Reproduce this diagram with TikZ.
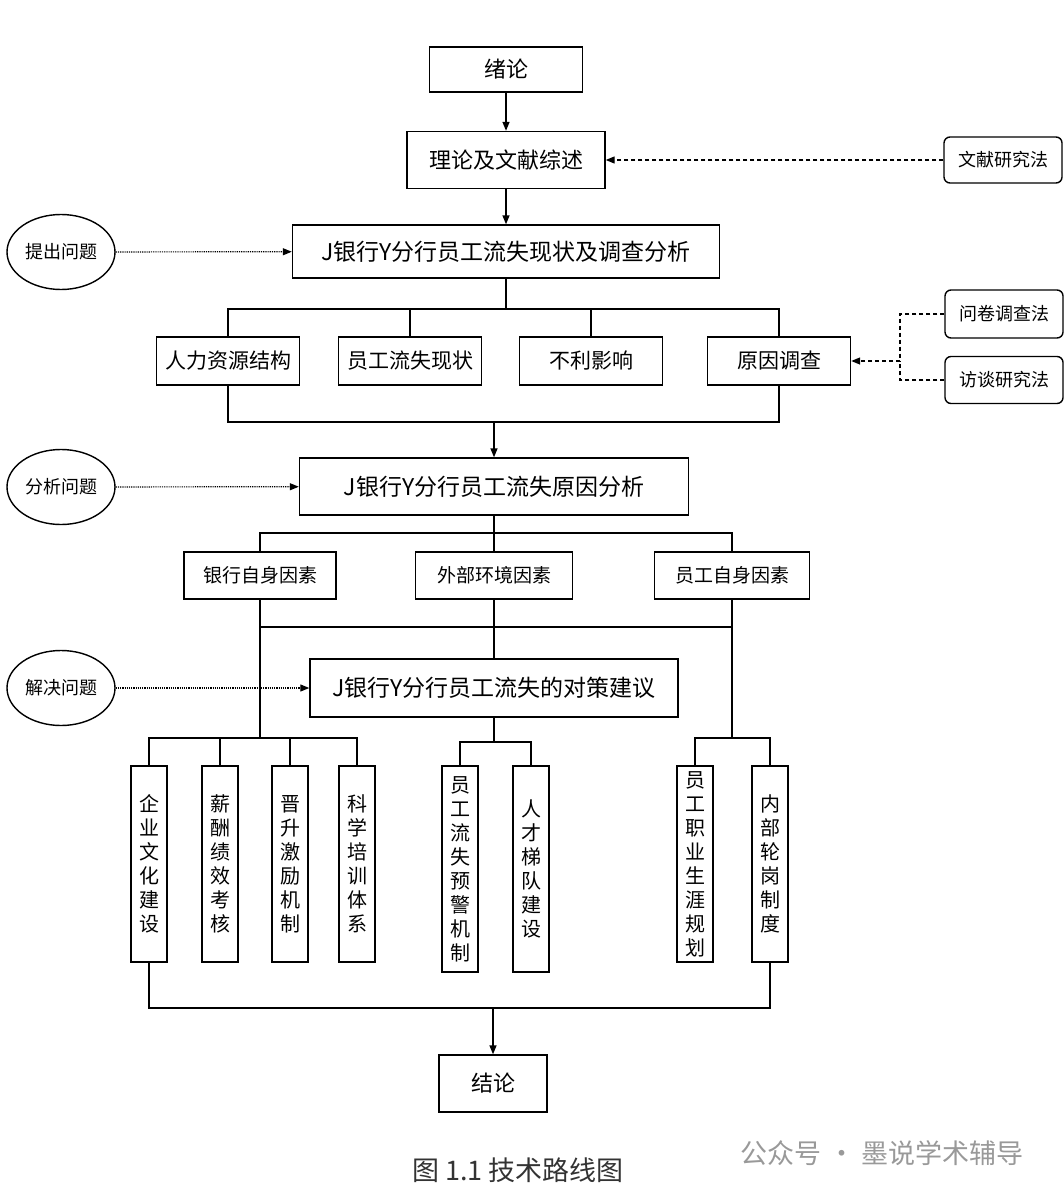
\documentclass[tikz,border=0pt]{standalone}
\usepackage{fontspec}
\setmainfont{Noto Sans CJK SC}
\usetikzlibrary{arrows.meta,shapes.geometric}

\begin{document}
\begin{tikzpicture}[x=1pt, y=-1pt, line width=1.4pt,
	>={Triangle[length=9pt,width=7pt]},
	box/.style={draw, rectangle, inner sep=0pt, align=center},
	mainbox/.style={box, font=\fontsize{23}{27}\selectfont},
	subbox/.style={box, minimum width=143pt, minimum height=48pt, font=\fontsize{21}{25}\selectfont},
	factorbox/.style={box, minimum height=47pt, font=\fontsize{19}{23}\selectfont},
	vbox/.style={box, minimum width=36pt, text width=36pt, minimum height=196pt, font=\fontsize{20}{24}\selectfont},
	method/.style={box, rounded corners=6pt, minimum width=118pt, font=\fontsize{18}{22}\selectfont},
	oval/.style={draw, ellipse, minimum width=108pt, minimum height=75pt, inner sep=0pt, font=\fontsize{18}{22}\selectfont},
	dotarrow/.style={->, densely dotted, line width=1.2pt},
	dashline/.style={dash pattern=on 4pt off 3pt, line width=1.3pt},
	dasharrow/.style={->, dashline}]
	\useasboundingbox (0,0) rectangle (1064,1196);

	\node [box, minimum width=153pt, minimum height=45pt, font=\fontsize{22}{26}\selectfont] (xulun) at (506,69.5) {绪论};
	\node [box, minimum width=198pt, minimum height=57pt, font=\fontsize{22}{26}\selectfont] (zongshu) at (506,160) {理论及文献综述};
	\node [method, minimum height=46pt] (wenxian) at (1003,160) {文献研究法};
	\node [oval] (tichu) at (61,252) {提出问题};
	\node [mainbox, minimum width=427pt, minimum height=53pt] (xianzhuang) at (506,251.5) {J银行Y分行员工流失现状及调查分析};

	\node [subbox] (jiegou) at (228,361) {人力资源结构};
	\node [subbox] (xianzhuang2) at (410,361) {员工流失现状};
	\node [subbox] (yingxiang) at (591,361) {不利影响};
	\node [subbox] (diaocha) at (779,361) {原因调查};
	\node [method, minimum height=48pt] (wenjuan) at (1004,314) {问卷调查法};
	\node [method, minimum height=47pt] (fangtan) at (1004,380) {访谈研究法};

	\node [oval] (fenxi) at (61,487) {分析问题};
	\node [mainbox, minimum width=389pt, minimum height=57pt] (yuanyin) at (494,486.5) {J银行Y分行员工流失原因分析};
	\node [factorbox, minimum width=152pt] (yinhang) at (260,575.5) {银行自身因素};
	\node [factorbox, minimum width=157pt] (waibu) at (494,575.5) {外部环境因素};
	\node [factorbox, minimum width=155pt] (yuangong) at (732,575.5) {员工自身因素};

	\node [oval] (jiejue) at (61,688) {解决问题};
	\node [mainbox, minimum width=368pt, minimum height=58pt] (duice) at (494,688) {J银行Y分行员工流失的对策建议};

	\node [vbox] (qiye) at (149,864) {企\\业\\文\\化\\建\\设};
	\node [vbox] (xinchou) at (220,864) {薪\\酬\\绩\\效\\考\\核};
	\node [vbox] (jinsheng) at (290,864) {晋\\升\\激\\励\\机\\制};
	\node [vbox] (kexue) at (357,864) {科\\学\\培\\训\\体\\系};
	\node [vbox, minimum height=206pt] (yujing) at (460,869) {员\\工\\流\\失\\预\\警\\机\\制};
	\node [vbox, minimum height=206pt] (tidui) at (531,869) {人\\才\\梯\\队\\建\\设};
	\node [vbox] (zhiye) at (695,864) {员\\工\\职\\业\\生\\涯\\规\\划};
	\node [vbox] (lungang) at (770,864) {内\\部\\轮\\岗\\制\\度};

	\node [box, minimum width=108pt, minimum height=57pt, font=\fontsize{22}{26}\selectfont] (jielun) at (493,1083.5) {结论};
	\node [font=\fontsize{27}{31}\selectfont, text=black!80] (caption) at (518,1170) {图 1.1 技术路线图};
	\node [font=\fontsize{27}{31}\selectfont, text=black!40] (mark) at (882,1153) {公众号 · 墨说学术辅导};

	\coordinate (bus1) at (506,309);
	\coordinate (bus2) at (494,422);
	\coordinate (bus3) at (494,533);
	\coordinate (bus4) at (494,627);
	\coordinate (bus5) at (260,738);
	\coordinate (bus6) at (494,742);
	\coordinate (bus7) at (732,738);
	\coordinate (bus8) at (493,1008);
	\coordinate (join) at (900,361);

	\draw [->] (xulun) -- (zongshu);
	\draw [->] (zongshu) -- (xianzhuang);
	\draw [dasharrow] (wenxian) -- (zongshu);
	\draw [dotarrow] (tichu) -- (xianzhuang);

	\draw (xianzhuang) -- (bus1);
	\draw (jiegou.north) |- (bus1) -| (diaocha.north);
	\draw (xianzhuang2.north) -- (xianzhuang2.north |- bus1);
	\draw (yingxiang.north) -- (yingxiang.north |- bus1);
	\draw (jiegou.south) |- (bus2) -| (diaocha.south);
	\draw [->] (bus2) -- (yuanyin);
	\draw [dashline] (wenjuan.west) -| (join);
	\draw [dashline] (fangtan.west) -| (join);
	\draw [dasharrow] (join) -- (diaocha);

	\draw [dotarrow] (fenxi) -- (yuanyin);
	\draw (yuanyin) -- (bus3);
	\draw (yinhang.north) |- (bus3) -| (yuangong.north);
	\draw (waibu.north) -- (bus3);
	\draw (waibu) -- (duice);
	\draw (yinhang.south |- bus4) -- (yuangong.south |- bus4);
	\draw (yinhang) -- (bus5);
	\draw (yuangong) -- (bus7);

	\draw [dotarrow] (jiejue) -- (duice);
	\draw (qiye.north) |- (bus5) -| (kexue.north);
	\draw (xinchou.north) -- (xinchou.north |- bus5);
	\draw (jinsheng.north) -- (jinsheng.north |- bus5);
	\draw (duice) -- (bus6);
	\draw (yujing.north) |- (bus6) -| (tidui.north);
	\draw (zhiye.north) |- (bus7) -| (lungang.north);

	\draw (qiye.south) |- (bus8) -| (lungang.south);
	\draw [->] (bus8) -- (jielun);
\end{tikzpicture}
\end{document}
